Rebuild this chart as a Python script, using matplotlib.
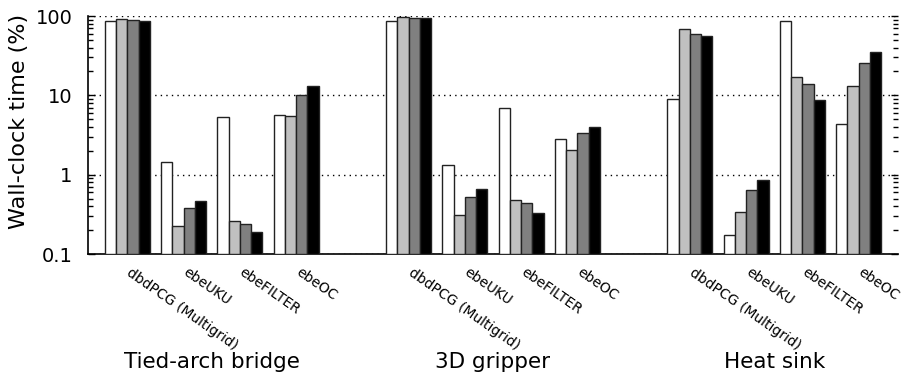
import numpy as np
import matplotlib.pyplot as plt
import matplotlib.transforms as mtransforms
from matplotlib.ticker import LogLocator, FixedLocator, FixedFormatter, NullFormatter

# wall-clock share (%) per method, four bars per method
groups = ['Tied-arch bridge', '3D gripper', 'Heat sink']
methods = ['dbdPCG (Multigrid)', 'ebeUKU', 'ebeFILTER', 'ebeOC']
bar_colors = ['white', '#c0c0c0', '#808080', 'black']

bridge = [
    [86.5, 92.7, 88.3, 85.7],
    [1.44, 0.225, 0.385, 0.46],
    [5.37, 0.26, 0.237, 0.19],
    [5.62, 5.46, 10.1, 13.2],
]
gripper = [
    [87.5, 96.3, 95.4, 94.4],
    [1.33, 0.313, 0.525, 0.655],
    [6.84, 0.48, 0.436, 0.326],
    [2.80, 2.07, 3.37, 4.01],
]
heatsink = [
    [8.95, 67.9, 59.3, 55.4],
    [0.174, 0.342, 0.643, 0.85],
    [85.7, 17.0, 13.8, 8.70],
    [4.30, 13.2, 25.8, 35.5],
]

fig = plt.figure(figsize=(9.02, 3.82), dpi=100)
ax = fig.add_axes([88 / 902, 1 - 254 / 382, 810 / 902, 238 / 382])

bw = 0.2
tick_pos = []
tick_lab = []
for g, data in enumerate([bridge, gripper, heatsink]):
    for m, vals in enumerate(data):
        slot = g * 5 + m
        tick_pos.append(slot)
        tick_lab.append(methods[m])
        for j, v in enumerate(vals):
            ax.bar(slot - 0.3 + j * bw, v - 0.1, bottom=0.1, width=bw,
                   color=bar_colors[j], edgecolor='#222222', linewidth=1.0,
                   zorder=3)

ax.set_yscale('log')
ax.set_ylim(0.1, 100)
ax.set_xlim(-0.7, 13.7)

ax.yaxis.set_major_locator(FixedLocator([0.1, 1, 10, 100]))
ax.yaxis.set_major_formatter(FixedFormatter(['0.1', '1', '10', '100']))
ax.yaxis.set_minor_locator(LogLocator(base=10, subs=np.arange(2, 10)))
ax.yaxis.set_minor_formatter(NullFormatter())
ax.tick_params(axis='y', which='both', direction='in', left=True, right=True,
               labelright=False, labelsize=14, pad=11)
ax.tick_params(axis='y', which='major', length=5, width=1)
ax.tick_params(axis='y', which='minor', length=3.5, width=1)

ax.set_xticks(tick_pos)
ax.set_xticklabels(tick_lab, rotation=-35, ha='left', va='top',
                   rotation_mode='anchor', fontsize=10)
ax.tick_params(axis='x', length=0, pad=8)
# nudge the slanted labels a few pixels to the right
shift = mtransforms.ScaledTranslation(5 / 100, 0, fig.dpi_scale_trans)
for lab in ax.get_xticklabels():
    lab.set_transform(lab.get_transform() + shift)

ax.spines['top'].set_visible(False)
ax.spines['right'].set_visible(False)
ax.spines['left'].set_linewidth(1.2)
ax.spines['bottom'].set_linewidth(1.2)

ax.set_axisbelow(True)
ax.yaxis.grid(True, which='major', color='black', linestyle=(0, (1, 3)),
              linewidth=1.0)

ax.set_ylabel('Wall-clock time (%)', fontsize=16)
ax.yaxis.set_label_coords(-0.073, 0.555)

for g, name in enumerate(groups):
    xc = g * 5 + 1.5
    ax.text(xc, -0.454, name, transform=ax.get_xaxis_transform(),
            ha='center', va='center', fontsize=15.5)

fig.savefig('out.png', dpi=100)
